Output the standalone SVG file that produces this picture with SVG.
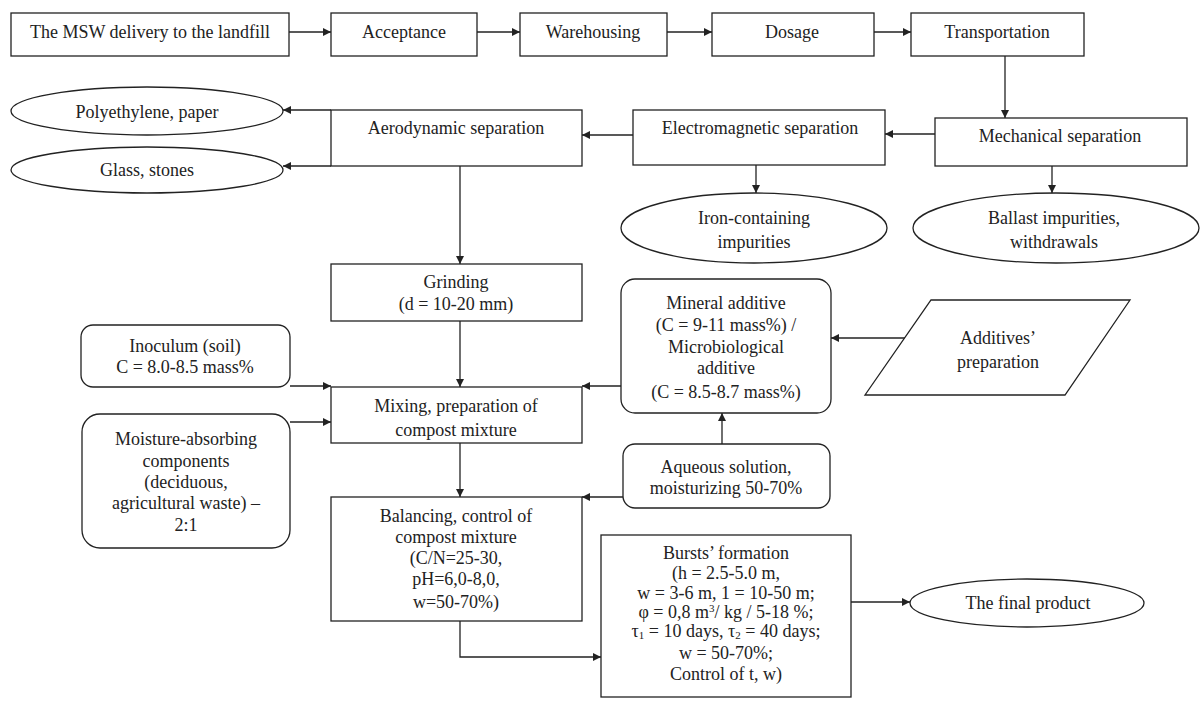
<svg xmlns="http://www.w3.org/2000/svg" width="1203" height="702" viewBox="0 0 1203 702">
<style>
.b{fill:#fff;stroke:#222;stroke-width:1.3}
.t{font-family:"Liberation Serif","Times New Roman",serif;font-size:18px;fill:#222;text-anchor:middle}
.c{fill:none;stroke:#222;stroke-width:1.3;marker-end:url(#ah)}
</style>
<defs>
<marker id="ah" viewBox="0 0 10 10" refX="10" refY="5" markerWidth="9" markerHeight="8" markerUnits="userSpaceOnUse" orient="auto">
<path d="M0,0 L10,5 L0,10 z" fill="#222"/>
</marker>
</defs>
<rect width="1203" height="702" fill="#fff"/>
<g id="connectors">
<path class="c" d="M289,32 H331"/>
<path class="c" d="M477,32 H520"/>
<path class="c" d="M667,32 H712"/>
<path class="c" d="M874,32 H911"/>
<path class="c" d="M1005,56 V118"/>
<path class="c" d="M935,134 H885"/>
<path class="c" d="M633,135 H582"/>
<path class="c" d="M331,110 H283"/>
<path class="c" d="M331,166 H283"/>
<path class="c" d="M756,165 V193"/>
<path class="c" d="M1052,166 V193"/>
<path class="c" d="M460,166 V264"/>
<path class="c" d="M460,321 V387"/>
<path class="c" d="M290,386 H331"/>
<path class="c" d="M290,422 H331"/>
<path class="c" d="M621,386 H582"/>
<path class="c" d="M905,338 H831"/>
<path class="c" d="M722,444 V413"/>
<path class="c" d="M623,497 H582"/>
<path class="c" d="M460,443 V497"/>
<path class="c" d="M460,621 V657 H601"/>
<path class="c" d="M851,602 H910"/>
</g>
<g id="msw"><rect class="b" x="11" y="13" width="278" height="43"/><text class="t" x="150" y="38">The MSW delivery to the landfill</text></g>
<g id="acceptance"><rect class="b" x="331" y="13" width="146" height="43"/><text class="t" x="404" y="38">Acceptance</text></g>
<g id="warehousing"><rect class="b" x="520" y="13" width="147" height="43"/><text class="t" x="593" y="38">Warehousing</text></g>
<g id="dosage"><rect class="b" x="712" y="13" width="162" height="43"/><text class="t" x="792" y="38">Dosage</text></g>
<g id="transportation"><rect class="b" x="911" y="13" width="173" height="43"/><text class="t" x="997" y="38">Transportation</text></g>
<g id="mechanical"><rect class="b" x="935" y="118" width="252" height="48"/><text class="t" x="1060" y="142">Mechanical separation</text></g>
<g id="electromagnetic"><rect class="b" x="633" y="110" width="252" height="55"/><text class="t" x="760" y="134">Electromagnetic separation</text></g>
<g id="aerodynamic"><rect class="b" x="331" y="110" width="251" height="56"/><text class="t" x="456" y="134">Aerodynamic separation</text></g>
<g id="polyethylene"><ellipse class="b" cx="147" cy="111" rx="136" ry="24"/><text class="t" x="147" y="118">Polyethylene, paper</text></g>
<g id="glass"><ellipse class="b" cx="147" cy="170" rx="136" ry="23"/><text class="t" x="147" y="176">Glass, stones</text></g>
<g id="iron"><ellipse class="b" cx="754" cy="228" rx="133" ry="35"/><text class="t" x="754" y="224">Iron-containing</text><text class="t" x="754" y="248">impurities</text></g>
<g id="ballast"><ellipse class="b" cx="1056" cy="228" rx="143" ry="35"/><text class="t" x="1054" y="224">Ballast impurities,</text><text class="t" x="1054" y="248">withdrawals</text></g>
<g id="grinding"><rect class="b" x="331" y="264" width="251" height="57"/><text class="t" x="456" y="288">Grinding</text><text class="t" x="456" y="310">(d = 10-20 mm)</text></g>
<g id="inoculum"><rect class="b" x="81" y="325" width="209" height="62" rx="12"/><text class="t" x="185" y="352">Inoculum (soil)</text><text class="t" x="185" y="373">C = 8.0-8.5 mass%</text></g>
<g id="mixing"><rect class="b" x="331" y="387" width="251" height="56"/><text class="t" x="456" y="412">Mixing, preparation of</text><text class="t" x="456" y="436">compost mixture</text></g>
<g id="mineral"><rect class="b" x="621" y="279" width="210" height="134" rx="14"/><text class="t" x="726" y="309">Mineral additive</text><text class="t" x="726" y="331">(C = 9-11 mass%) /</text><text class="t" x="726" y="353">Microbiological</text><text class="t" x="726" y="374">additive</text><text class="t" x="726" y="398">(C = 8.5-8.7 mass%)</text></g>
<g id="additives"><polygon class="b" points="931,300 1130,300 1065,395 865,395"/><text class="t" x="998" y="344">Additives’</text><text class="t" x="998" y="368">preparation</text></g>
<g id="moisture"><rect class="b" x="82" y="414" width="208" height="134" rx="18"/><text class="t" x="186" y="445">Moisture-absorbing</text><text class="t" x="186" y="467">components</text><text class="t" x="186" y="488">(deciduous,</text><text class="t" x="186" y="509">agricultural waste) –</text><text class="t" x="186" y="531">2:1</text></g>
<g id="aqueous"><rect class="b" x="623" y="444" width="207" height="64" rx="12"/><text class="t" x="726" y="473">Aqueous solution,</text><text class="t" x="726" y="494">moisturizing 50-70%</text></g>
<g id="balancing"><rect class="b" x="331" y="497" width="251" height="124"/><text class="t" x="456" y="522">Balancing, control of</text><text class="t" x="456" y="543">compost mixture</text><text class="t" x="456" y="564">(C/N=25-30,</text><text class="t" x="456" y="585">pH=6,0-8,0,</text><text class="t" x="456" y="608">w=50-70%)</text></g>
<g id="bursts"><rect class="b" x="601" y="535" width="250" height="162"/><text class="t" x="726" y="559">Bursts’ formation</text><text class="t" x="726" y="579">(h = 2.5-5.0 m,</text><text class="t" x="726" y="599">w = 3-6 m, 1 = 10-50 m;</text><text class="t" x="726" y="618">φ = 0,8 m<tspan font-size="11" dy="-6">3</tspan><tspan dy="6">/ kg / 5-18 %;</tspan></text><text class="t" x="726" y="637">τ<tspan font-size="11" dy="2">1</tspan><tspan dy="-2"> = 10 days, τ</tspan><tspan font-size="11" dy="2">2</tspan><tspan dy="-2"> = 40 days;</tspan></text><text class="t" x="726" y="659">w = 50-70%;</text><text class="t" x="726" y="680">Control of t, w)</text></g>
<g id="final"><ellipse class="b" cx="1027" cy="603" rx="117" ry="24"/><text class="t" x="1028" y="609">The final product</text></g>
</svg>
